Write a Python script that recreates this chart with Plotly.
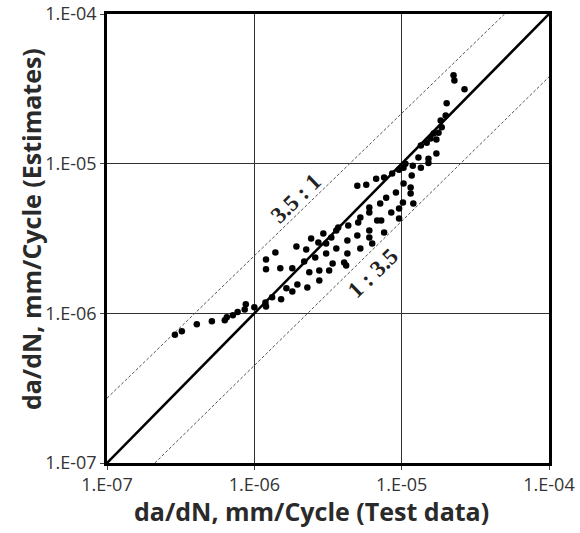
import plotly.graph_objects as go

# Test data (x) vs estimates (y), da/dN in mm/cycle
x_test = [
    2.89e-7, 3.22e-7, 4.07e-7, 5.15e-7, 6.3e-7, 6.5e-7, 7.15e-7, 7.7e-7, 8.75e-7, 8.6e-7,
    1.0e-6, 1.19e-6, 1.2e-6, 1.32e-6, 1.52e-6, 1.65e-6, 1.81e-6, 1.96e-6, 2.29e-6, 1.2e-6,
    1.39e-6, 1.2e-6, 1.5e-6, 1.81e-6, 1.93e-6, 2.25e-6, 2.43e-6, 2.72e-6, 2.94e-6, 3.33e-6,
    3.6e-6, 3.07e-6, 2.59e-6, 2.18e-6, 2.36e-6, 2.76e-6, 3.22e-6, 2.76e-6, 4.07e-6, 5.0e-6,
    5.75e-6, 6.71e-6, 7.6e-6, 8.62e-6, 9.6e-6, 1.06e-5, 1.17e-5, 1.03e-5, 1.15e-5, 1.15e-5,
    1.2e-5, 1.02e-5, 9.14e-6, 7.85e-6, 7.15e-6, 6.03e-6, 6.03e-6, 8.5e-6, 9.6e-6, 9.6e-6,
    7.26e-6, 6.82e-6, 5.24e-6, 5.07e-6, 4.34e-6, 3.71e-6, 3.6e-6, 6.03e-6, 7.6e-6, 5.0e-6,
    6.03e-6, 4.28e-6, 6.31e-6, 3.07e-6, 5.24e-6, 4.28e-6, 2.25e-5, 2.28e-5, 2.67e-5, 2.02e-5,
    1.99e-5, 1.84e-5, 1.87e-5, 1.78e-5, 1.65e-5, 1.57e-5, 1.48e-5, 1.72e-5, 1.35e-5, 1.3e-5,
    1.52e-5, 1.52e-5, 1.72e-5, 1.35e-5, 1.03e-5, 1.19e-5, 4.2e-6, 3.4e-6,
]
y_est = [
    7.2e-7, 7.6e-7, 8.45e-7, 8.85e-7, 8.98e-7, 9.4e-7, 9.7e-7, 1.02e-6, 1.15e-6, 1.06e-6,
    1.1e-6, 1.18e-6, 1.11e-6, 1.28e-6, 1.24e-6, 1.47e-6, 1.4e-6, 1.56e-6, 1.49e-6, 2.29e-6,
    2.55e-6, 1.97e-6, 2.0e-6, 2.0e-6, 2.8e-6, 2.67e-6, 3.16e-6, 2.97e-6, 3.41e-6, 3.21e-6,
    2.71e-6, 2.51e-6, 2.36e-6, 2.22e-6, 1.88e-6, 1.93e-6, 1.93e-6, 1.66e-6, 2.19e-6, 7.13e-6,
    7.24e-6, 7.94e-6, 8.07e-6, 8.58e-6, 9.12e-6, 1.0e-5, 8.32e-6, 7.36e-6, 6.92e-6, 6.31e-6,
    5.41e-6, 5.5e-6, 6.41e-6, 5.93e-6, 5.41e-6, 5.09e-6, 4.71e-6, 4.71e-6, 5.01e-6, 4.3e-6,
    4.17e-6, 4.17e-6, 4.37e-6, 4.04e-6, 3.86e-6, 3.74e-6, 3.58e-6, 3.58e-6, 3.47e-6, 3.31e-6,
    3.21e-6, 3.07e-6, 2.93e-6, 2.93e-6, 2.71e-6, 2.51e-6, 3.89e-5, 3.6e-5, 3.14e-5, 2.53e-5,
    2.1e-5, 1.94e-5, 1.75e-5, 1.61e-5, 1.59e-5, 1.47e-5, 1.38e-5, 1.45e-5, 1.32e-5, 1.1e-5,
    1.08e-5, 1.01e-5, 1.17e-5, 9.4e-6, 9.4e-6, 9.7e-6, 2.09e-6, 2.15e-6,
]

# Reference lines (end points)
line_11_x = [1e-7, 1e-4]
line_11_y = [1e-7, 1e-4]
upper_x = [1e-7, 4.99e-5]
upper_y = [2.71e-7, 1e-4]
lower_x = [2.11e-7, 1e-4]
lower_y = [1e-7, 3.8e-5]

tick_vals = [1e-7, 1e-6, 1e-5, 1e-4]
tick_text = ["1.E-07", "1.E-06", "1.E-05", "1.E-04"]

x_title = "da/dN, mm/Cycle (Test data)"
y_title = "da/dN, mm/Cycle (Estimates)"

fig = go.Figure()
fig.add_trace(go.Scatter(x=upper_x, y=upper_y, mode="lines",
                         line=dict(color="#555555", width=1, dash="3px,2px"), hoverinfo="skip"))
fig.add_trace(go.Scatter(x=lower_x, y=lower_y, mode="lines",
                         line=dict(color="#555555", width=1, dash="3px,2px"), hoverinfo="skip"))
fig.add_trace(go.Scatter(x=line_11_x, y=line_11_y, mode="lines",
                         line=dict(color="black", width=2.5), hoverinfo="skip"))
fig.add_trace(go.Scatter(x=x_test, y=y_est, mode="markers",
                         marker=dict(color="black", size=6.5, line=dict(width=0))))

fig.add_annotation(x=-5.719, y=-5.23, xref="x", yref="y", text="<b>3.5 : 1</b>", showarrow=False,
                   textangle=-44, font=dict(family="Liberation Serif", size=23, color="#222"))
fig.add_annotation(x=-5.197, y=-5.731, xref="x", yref="y", text="<b>1 : 3.5</b>", showarrow=False,
                   textangle=-44, font=dict(family="Liberation Serif", size=23, color="#222"))

fig.add_annotation(x=0.462, y=-0.106, xref="paper", yref="paper", text="<b>" + x_title + "</b>",
                   showarrow=False, xanchor="center", yanchor="middle",
                   font=dict(family="Open Sans", size=25, color="#2a2a2a"))
fig.add_annotation(x=-0.172, y=0.521, xref="paper", yref="paper", text="<b>" + y_title + "</b>",
                   showarrow=False, xanchor="center", yanchor="middle", textangle=-90,
                   font=dict(family="Open Sans", size=25, color="#2a2a2a"))

axis_common = dict(
    type="log", range=[-7, -4], tickvals=tick_vals, ticktext=tick_text,
    showgrid=True, gridcolor="#333333", gridwidth=1,
    showline=True, linecolor="black", linewidth=2.5, mirror=True,
    ticks="outside", ticklen=4, tickcolor="#444", tickwidth=1,
    tickfont=dict(family="Open Sans", size=18, color="#333333"),
    zeroline=False, automargin=False,
)
fig.update_xaxes(**axis_common)
fig.update_yaxes(**axis_common)

fig.update_layout(
    width=580, height=533, showlegend=False,
    margin=dict(l=107, r=31, t=14, b=70),
    plot_bgcolor="white", paper_bgcolor="white",
)
fig.write_html("out.html")
